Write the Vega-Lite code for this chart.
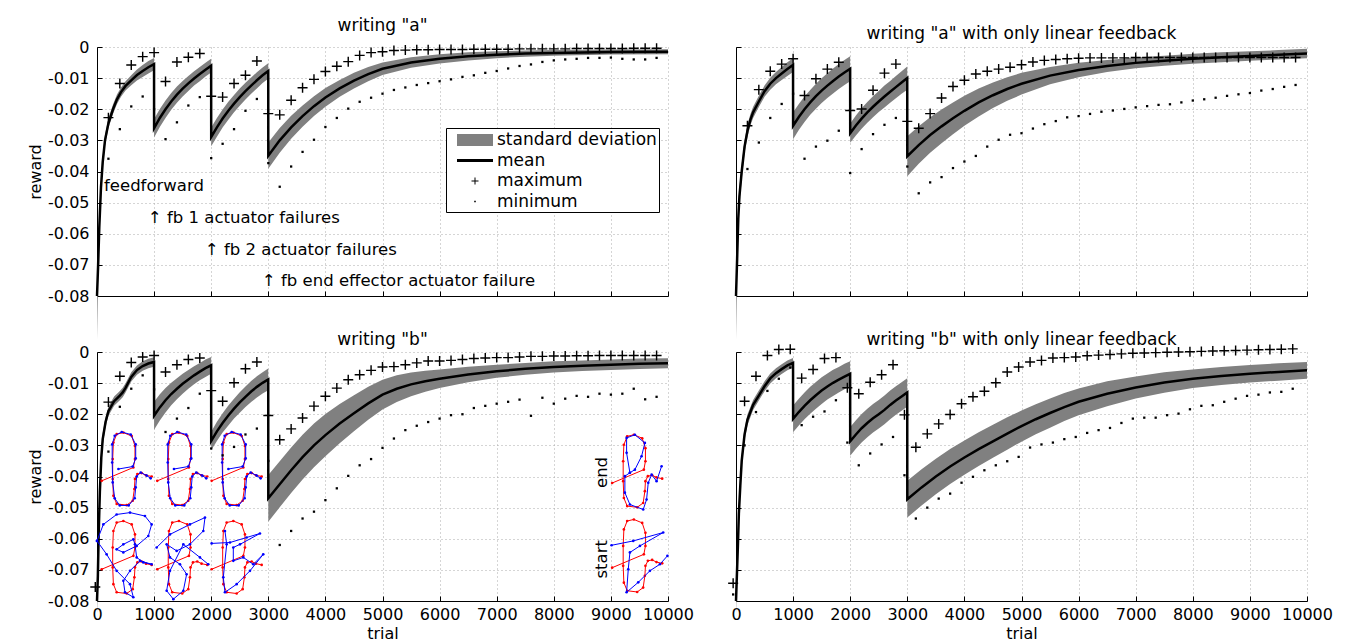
{
"$schema": "https://vega.github.io/schema/vega-lite/v6.json",
"padding": {"left": 27, "top": 17, "right": 5, "bottom": 5},
"config": {
  "font": "DejaVu Sans",
  "view": {"stroke": null},
  "axis": {"domainColor": "black", "domainWidth": 1, "tickColor": "black", "tickSize": -5, "labelColor": "black", "labelFontSize": 16, "labelFont": "DejaVu Sans", "labelOverlap": false, "labelBound": false, "labelFlush": false, "titleFontSize": 16, "titleFontWeight": "normal", "titleColor": "black", "titleFont": "DejaVu Sans", "gridColor": "#aaaaaa", "gridDash": [1, 3], "gridWidth": 1},
  "axisY": {"labelPadding": 13},
  "axisX": {"labelPadding": 10},
  "title": {"fontSize": 17, "fontWeight": "normal", "offset": 7, "frame": "group", "color": "black", "font": "DejaVu Sans"}
},
"datasets": {
  "tl": [
    {"t":0,"m":-0.080,"lo":-0.094,"hi":-0.076},{"t":20,"m":-0.070,"lo":-0.074,"hi":-0.066},{"t":40,"m":-0.058,"lo":-0.061,"hi":-0.055},{"t":70,"m":-0.045,"lo":-0.0475,"hi":-0.0425},{"t":100,"m":-0.037,"lo":-0.039,"hi":-0.035},{"t":140,"m":-0.030,"lo":-0.0318,"hi":-0.0282},{"t":200,"m":-0.0245,"lo":-0.026,"hi":-0.023},{"t":280,"m":-0.020,"lo":-0.0215,"hi":-0.0185},{"t":350,"m":-0.0168,"lo":-0.0183,"hi":-0.0153},{"t":420,"m":-0.0145,"lo":-0.016,"hi":-0.013},{"t":500,"m":-0.0125,"lo":-0.014,"hi":-0.011},{"t":600,"m":-0.0107,"lo":-0.0123,"hi":-0.0091},{"t":700,"m":-0.0090,"lo":-0.0108,"hi":-0.0072},{"t":800,"m":-0.0077,"lo":-0.0096,"hi":-0.0058},{"t":900,"m":-0.0065,"lo":-0.0085,"hi":-0.0045},{"t":999,"m":-0.0055,"lo":-0.0075,"hi":-0.0035},
    {"t":1000,"m":-0.0261,"lo":-0.0291,"hi":-0.0231},{"t":1100,"m":-0.0228,"lo":-0.0257,"hi":-0.0199},{"t":1200,"m":-0.0200,"lo":-0.0228,"hi":-0.0172},{"t":1300,"m":-0.0175,"lo":-0.0202,"hi":-0.0148},{"t":1400,"m":-0.0153,"lo":-0.0179,"hi":-0.0127},{"t":1500,"m":-0.0134,"lo":-0.0159,"hi":-0.0109},{"t":1600,"m":-0.0117,"lo":-0.0141,"hi":-0.0093},{"t":1700,"m":-0.0101,"lo":-0.0124,"hi":-0.0078},{"t":1800,"m":-0.0087,"lo":-0.0110,"hi":-0.0064},{"t":1900,"m":-0.0073,"lo":-0.0095,"hi":-0.0051},{"t":1999,"m":-0.0060,"lo":-0.0082,"hi":-0.0038},
    {"t":2000,"m":-0.0289,"lo":-0.0319,"hi":-0.0259},{"t":2100,"m":-0.0258,"lo":-0.0288,"hi":-0.0228},{"t":2200,"m":-0.0230,"lo":-0.0259,"hi":-0.0201},{"t":2300,"m":-0.0205,"lo":-0.0234,"hi":-0.0176},{"t":2400,"m":-0.0182,"lo":-0.0210,"hi":-0.0154},{"t":2500,"m":-0.0161,"lo":-0.0189,"hi":-0.0133},{"t":2600,"m":-0.0142,"lo":-0.0169,"hi":-0.0115},{"t":2700,"m":-0.0124,"lo":-0.0150,"hi":-0.0098},{"t":2800,"m":-0.0107,"lo":-0.0133,"hi":-0.0081},{"t":2900,"m":-0.0091,"lo":-0.0116,"hi":-0.0066},{"t":2999,"m":-0.0077,"lo":-0.0102,"hi":-0.0052},
    {"t":3000,"m":-0.0349,"lo":-0.0391,"hi":-0.0307},{"t":3200,"m":-0.0300,"lo":-0.0340,"hi":-0.0260},{"t":3400,"m":-0.0258,"lo":-0.0295,"hi":-0.0221},{"t":3600,"m":-0.0222,"lo":-0.0256,"hi":-0.0188},{"t":3800,"m":-0.0190,"lo":-0.0222,"hi":-0.0158},{"t":4000,"m":-0.0162,"lo":-0.0192,"hi":-0.0132},{"t":4250,"m":-0.0133,"lo":-0.0160,"hi":-0.0106},{"t":4500,"m":-0.0108,"lo":-0.0133,"hi":-0.0083},{"t":4750,"m":-0.0087,"lo":-0.0110,"hi":-0.0064},{"t":5000,"m":-0.0070,"lo":-0.0090,"hi":-0.0050},{"t":5500,"m":-0.0050,"lo":-0.0067,"hi":-0.0033},{"t":6000,"m":-0.0038,"lo":-0.0053,"hi":-0.0023},{"t":6500,"m":-0.0030,"lo":-0.0043,"hi":-0.0017},{"t":7000,"m":-0.0025,"lo":-0.0036,"hi":-0.0014},{"t":7500,"m":-0.0021,"lo":-0.0031,"hi":-0.0011},{"t":8000,"m":-0.0019,"lo":-0.0028,"hi":-0.0010},{"t":9000,"m":-0.0016,"lo":-0.0024,"hi":-0.0008},{"t":10000,"m":-0.0015,"lo":-0.0023,"hi":-0.0007}
  ],
  "tr": [
    {"t":0,"m":-0.080,"lo":-0.094,"hi":-0.076},{"t":20,"m":-0.068,"lo":-0.072,"hi":-0.064},{"t":40,"m":-0.055,"lo":-0.058,"hi":-0.052},{"t":60,"m":-0.048,"lo":-0.051,"hi":-0.045},{"t":100,"m":-0.040,"lo":-0.0425,"hi":-0.0375},{"t":150,"m":-0.032,"lo":-0.034,"hi":-0.030},{"t":200,"m":-0.027,"lo":-0.029,"hi":-0.025},{"t":250,"m":-0.0235,"lo":-0.0253,"hi":-0.0217},{"t":300,"m":-0.021,"lo":-0.0228,"hi":-0.0192},{"t":400,"m":-0.0175,"lo":-0.0193,"hi":-0.0157},{"t":500,"m":-0.0142,"lo":-0.016,"hi":-0.0124},{"t":600,"m":-0.0118,"lo":-0.0137,"hi":-0.0099},{"t":700,"m":-0.0100,"lo":-0.0120,"hi":-0.0080},{"t":800,"m":-0.0085,"lo":-0.0106,"hi":-0.0064},{"t":900,"m":-0.0071,"lo":-0.0093,"hi":-0.0049},{"t":999,"m":-0.0058,"lo":-0.0080,"hi":-0.0036},
    {"t":1000,"m":-0.0253,"lo":-0.0296,"hi":-0.0210},{"t":1100,"m":-0.0225,"lo":-0.0267,"hi":-0.0183},{"t":1200,"m":-0.0200,"lo":-0.0241,"hi":-0.0159},{"t":1300,"m":-0.0178,"lo":-0.0218,"hi":-0.0138},{"t":1400,"m":-0.0158,"lo":-0.0198,"hi":-0.0118},{"t":1500,"m":-0.0140,"lo":-0.0180,"hi":-0.0100},{"t":1600,"m":-0.0124,"lo":-0.0164,"hi":-0.0084},{"t":1700,"m":-0.0109,"lo":-0.0149,"hi":-0.0069},{"t":1800,"m":-0.0095,"lo":-0.0135,"hi":-0.0055},{"t":1900,"m":-0.0082,"lo":-0.0122,"hi":-0.0042},{"t":1999,"m":-0.0070,"lo":-0.0110,"hi":-0.0030},
    {"t":2000,"m":-0.0277,"lo":-0.0308,"hi":-0.0246},{"t":2100,"m":-0.0252,"lo":-0.0284,"hi":-0.0220},{"t":2200,"m":-0.0230,"lo":-0.0263,"hi":-0.0197},{"t":2300,"m":-0.0210,"lo":-0.0243,"hi":-0.0177},{"t":2400,"m":-0.0192,"lo":-0.0226,"hi":-0.0158},{"t":2500,"m":-0.0175,"lo":-0.0209,"hi":-0.0141},{"t":2600,"m":-0.0159,"lo":-0.0194,"hi":-0.0124},{"t":2700,"m":-0.0144,"lo":-0.0179,"hi":-0.0109},{"t":2800,"m":-0.0129,"lo":-0.0165,"hi":-0.0093},{"t":2900,"m":-0.0114,"lo":-0.0150,"hi":-0.0078},{"t":2999,"m":-0.0100,"lo":-0.0137,"hi":-0.0063},
    {"t":3000,"m":-0.0351,"lo":-0.0415,"hi":-0.0287},{"t":3200,"m":-0.0315,"lo":-0.0375,"hi":-0.0255},{"t":3400,"m":-0.0283,"lo":-0.0340,"hi":-0.0226},{"t":3600,"m":-0.0255,"lo":-0.0309,"hi":-0.0201},{"t":3800,"m":-0.0229,"lo":-0.0280,"hi":-0.0178},{"t":4000,"m":-0.0205,"lo":-0.0253,"hi":-0.0157},{"t":4250,"m":-0.0178,"lo":-0.0223,"hi":-0.0133},{"t":4500,"m":-0.0155,"lo":-0.0196,"hi":-0.0114},{"t":4750,"m":-0.0135,"lo":-0.0173,"hi":-0.0097},{"t":5000,"m":-0.0118,"lo":-0.0153,"hi":-0.0083},{"t":5500,"m":-0.0092,"lo":-0.0120,"hi":-0.0064},{"t":6000,"m":-0.0074,"lo":-0.0097,"hi":-0.0051},{"t":6500,"m":-0.0061,"lo":-0.0080,"hi":-0.0042},{"t":7000,"m":-0.0051,"lo":-0.0068,"hi":-0.0034},{"t":7500,"m":-0.0044,"lo":-0.0060,"hi":-0.0028},{"t":8000,"m":-0.0038,"lo":-0.0054,"hi":-0.0022},{"t":8500,"m":-0.0033,"lo":-0.0049,"hi":-0.0017},{"t":9000,"m":-0.0029,"lo":-0.0044,"hi":-0.0014},{"t":9500,"m":-0.0025,"lo":-0.0040,"hi":-0.0010},{"t":10000,"m":-0.0021,"lo":-0.0036,"hi":-0.0006}
  ],
  "bl": [
    {"t":0,"m":-0.080,"lo":-0.084,"hi":-0.076},{"t":15,"m":-0.072,"lo":-0.076,"hi":-0.068},{"t":30,"m":-0.058,"lo":-0.061,"hi":-0.055},{"t":50,"m":-0.045,"lo":-0.0475,"hi":-0.0425},{"t":75,"m":-0.034,"lo":-0.036,"hi":-0.032},{"t":100,"m":-0.028,"lo":-0.030,"hi":-0.026},{"t":150,"m":-0.0225,"lo":-0.024,"hi":-0.021},{"t":200,"m":-0.0190,"lo":-0.0205,"hi":-0.0175},{"t":300,"m":-0.0158,"lo":-0.0173,"hi":-0.0143},{"t":400,"m":-0.0140,"lo":-0.0155,"hi":-0.0125},{"t":450,"m":-0.0130,"lo":-0.0145,"hi":-0.0115},{"t":500,"m":-0.0115,"lo":-0.013,"hi":-0.010},{"t":600,"m":-0.0080,"lo":-0.0095,"hi":-0.0065},{"t":700,"m":-0.0058,"lo":-0.0073,"hi":-0.0043},{"t":800,"m":-0.0045,"lo":-0.0060,"hi":-0.0030},{"t":900,"m":-0.0037,"lo":-0.0052,"hi":-0.0022},{"t":999,"m":-0.0032,"lo":-0.0047,"hi":-0.0017},
    {"t":1000,"m":-0.0205,"lo":-0.0250,"hi":-0.0160},{"t":1100,"m":-0.0178,"lo":-0.0220,"hi":-0.0136},{"t":1200,"m":-0.0155,"lo":-0.0194,"hi":-0.0116},{"t":1300,"m":-0.0135,"lo":-0.0171,"hi":-0.0099},{"t":1400,"m":-0.0118,"lo":-0.0152,"hi":-0.0084},{"t":1500,"m":-0.0102,"lo":-0.0134,"hi":-0.0070},{"t":1600,"m":-0.0088,"lo":-0.0118,"hi":-0.0058},{"t":1700,"m":-0.0075,"lo":-0.0104,"hi":-0.0046},{"t":1800,"m":-0.0063,"lo":-0.0091,"hi":-0.0035},{"t":1900,"m":-0.0052,"lo":-0.0080,"hi":-0.0024},{"t":1999,"m":-0.0043,"lo":-0.0070,"hi":-0.0016},
    {"t":2000,"m":-0.0286,"lo":-0.0316,"hi":-0.0256},{"t":2100,"m":-0.0255,"lo":-0.0286,"hi":-0.0224},{"t":2200,"m":-0.0228,"lo":-0.0259,"hi":-0.0197},{"t":2300,"m":-0.0204,"lo":-0.0236,"hi":-0.0172},{"t":2400,"m":-0.0182,"lo":-0.0214,"hi":-0.0150},{"t":2500,"m":-0.0162,"lo":-0.0195,"hi":-0.0129},{"t":2600,"m":-0.0144,"lo":-0.0177,"hi":-0.0111},{"t":2700,"m":-0.0127,"lo":-0.0161,"hi":-0.0093},{"t":2800,"m":-0.0112,"lo":-0.0146,"hi":-0.0078},{"t":2900,"m":-0.0099,"lo":-0.0133,"hi":-0.0065},{"t":2999,"m":-0.0088,"lo":-0.0123,"hi":-0.0053},
    {"t":3000,"m":-0.0470,"lo":-0.0545,"hi":-0.0395},{"t":3200,"m":-0.0425,"lo":-0.0499,"hi":-0.0351},{"t":3400,"m":-0.0380,"lo":-0.0453,"hi":-0.0307},{"t":3600,"m":-0.0338,"lo":-0.0410,"hi":-0.0266},{"t":3800,"m":-0.0300,"lo":-0.0370,"hi":-0.0230},{"t":4000,"m":-0.0267,"lo":-0.0335,"hi":-0.0199},{"t":4250,"m":-0.0230,"lo":-0.0293,"hi":-0.0167},{"t":4500,"m":-0.0197,"lo":-0.0255,"hi":-0.0139},{"t":4750,"m":-0.0165,"lo":-0.0218,"hi":-0.0112},{"t":5000,"m":-0.0137,"lo":-0.0185,"hi":-0.0089},{"t":5250,"m":-0.0118,"lo":-0.0161,"hi":-0.0075},{"t":5500,"m":-0.0104,"lo":-0.0142,"hi":-0.0066},{"t":5750,"m":-0.0094,"lo":-0.0128,"hi":-0.0060},{"t":6000,"m":-0.0086,"lo":-0.0116,"hi":-0.0056},{"t":6500,"m":-0.0072,"lo":-0.0097,"hi":-0.0047},{"t":7000,"m":-0.0062,"lo":-0.0083,"hi":-0.0041},{"t":7500,"m":-0.0054,"lo":-0.0073,"hi":-0.0035},{"t":8000,"m":-0.0048,"lo":-0.0066,"hi":-0.0030},{"t":8500,"m":-0.0044,"lo":-0.0061,"hi":-0.0027},{"t":9000,"m":-0.0041,"lo":-0.0058,"hi":-0.0024},{"t":9500,"m":-0.0038,"lo":-0.0055,"hi":-0.0021},{"t":10000,"m":-0.0036,"lo":-0.0052,"hi":-0.0020}
  ],
  "br": [
    {"t":0,"m":-0.080,"lo":-0.084,"hi":-0.076},{"t":15,"m":-0.072,"lo":-0.075,"hi":-0.069},{"t":30,"m":-0.064,"lo":-0.067,"hi":-0.061},{"t":50,"m":-0.052,"lo":-0.055,"hi":-0.049},{"t":75,"m":-0.043,"lo":-0.0455,"hi":-0.0405},{"t":100,"m":-0.035,"lo":-0.037,"hi":-0.033},{"t":150,"m":-0.0265,"lo":-0.0283,"hi":-0.0247},{"t":200,"m":-0.0218,"lo":-0.0235,"hi":-0.0201},{"t":300,"m":-0.0170,"lo":-0.0186,"hi":-0.0154},{"t":400,"m":-0.0140,"lo":-0.0156,"hi":-0.0124},{"t":500,"m":-0.0110,"lo":-0.0126,"hi":-0.0094},{"t":600,"m":-0.0085,"lo":-0.0101,"hi":-0.0069},{"t":700,"m":-0.0068,"lo":-0.0084,"hi":-0.0052},{"t":800,"m":-0.0055,"lo":-0.0071,"hi":-0.0039},{"t":900,"m":-0.0043,"lo":-0.0059,"hi":-0.0027},{"t":999,"m":-0.0035,"lo":-0.0051,"hi":-0.0019},
    {"t":1000,"m":-0.0215,"lo":-0.0258,"hi":-0.0172},{"t":1100,"m":-0.0193,"lo":-0.0236,"hi":-0.0150},{"t":1200,"m":-0.0173,"lo":-0.0216,"hi":-0.0130},{"t":1300,"m":-0.0155,"lo":-0.0198,"hi":-0.0112},{"t":1400,"m":-0.0139,"lo":-0.0182,"hi":-0.0096},{"t":1500,"m":-0.0124,"lo":-0.0167,"hi":-0.0081},{"t":1600,"m":-0.0111,"lo":-0.0153,"hi":-0.0069},{"t":1700,"m":-0.0099,"lo":-0.0141,"hi":-0.0057},{"t":1800,"m":-0.0089,"lo":-0.0130,"hi":-0.0048},{"t":1900,"m":-0.0079,"lo":-0.0120,"hi":-0.0038},{"t":1999,"m":-0.0070,"lo":-0.0110,"hi":-0.0030},
    {"t":2000,"m":-0.0287,"lo":-0.0333,"hi":-0.0241},{"t":2100,"m":-0.0265,"lo":-0.0311,"hi":-0.0219},{"t":2200,"m":-0.0245,"lo":-0.0291,"hi":-0.0199},{"t":2300,"m":-0.0228,"lo":-0.0274,"hi":-0.0182},{"t":2400,"m":-0.0213,"lo":-0.0259,"hi":-0.0167},{"t":2500,"m":-0.0200,"lo":-0.0246,"hi":-0.0154},{"t":2600,"m":-0.0186,"lo":-0.0232,"hi":-0.0140},{"t":2700,"m":-0.0170,"lo":-0.0216,"hi":-0.0124},{"t":2800,"m":-0.0156,"lo":-0.0202,"hi":-0.0110},{"t":2900,"m":-0.0143,"lo":-0.0189,"hi":-0.0097},{"t":2999,"m":-0.0130,"lo":-0.0176,"hi":-0.0084},
    {"t":3000,"m":-0.0473,"lo":-0.0532,"hi":-0.0414},{"t":3250,"m":-0.0435,"lo":-0.0493,"hi":-0.0377},{"t":3500,"m":-0.0400,"lo":-0.0457,"hi":-0.0343},{"t":3750,"m":-0.0368,"lo":-0.0424,"hi":-0.0312},{"t":4000,"m":-0.0339,"lo":-0.0394,"hi":-0.0284},{"t":4250,"m":-0.0312,"lo":-0.0366,"hi":-0.0258},{"t":4500,"m":-0.0287,"lo":-0.0340,"hi":-0.0234},{"t":4750,"m":-0.0262,"lo":-0.0314,"hi":-0.0210},{"t":5000,"m":-0.0238,"lo":-0.0288,"hi":-0.0188},{"t":5250,"m":-0.0216,"lo":-0.0264,"hi":-0.0168},{"t":5500,"m":-0.0196,"lo":-0.0243,"hi":-0.0149},{"t":5750,"m":-0.0177,"lo":-0.0222,"hi":-0.0132},{"t":6000,"m":-0.0160,"lo":-0.0203,"hi":-0.0117},{"t":6500,"m":-0.0134,"lo":-0.0174,"hi":-0.0094},{"t":7000,"m":-0.0114,"lo":-0.0149,"hi":-0.0079},{"t":7500,"m":-0.0098,"lo":-0.0131,"hi":-0.0065},{"t":8000,"m":-0.0086,"lo":-0.0116,"hi":-0.0056},{"t":8500,"m":-0.0077,"lo":-0.0106,"hi":-0.0048},{"t":9000,"m":-0.0070,"lo":-0.0098,"hi":-0.0042},{"t":9500,"m":-0.0064,"lo":-0.0092,"hi":-0.0036},{"t":10000,"m":-0.0059,"lo":-0.0086,"hi":-0.0032}
  ],
  "tlm": [
    {"t":200,"maximum":-0.0227,"minimum":-0.0359},{"t":400,"maximum":-0.0117,"minimum":-0.0264},{"t":600,"maximum":-0.0058,"minimum":-0.0191},{"t":800,"maximum":-0.0031,"minimum":-0.0159},{"t":1000,"maximum":-0.0018,"minimum":-0.0200},{"t":1200,"maximum":-0.0111,"minimum":-0.0296},{"t":1400,"maximum":-0.0048,"minimum":-0.0242},{"t":1600,"maximum":-0.0033,"minimum":-0.0188},{"t":1800,"maximum":-0.0021,"minimum":-0.0161},{"t":2000,"maximum":-0.0158,"minimum":-0.0357},{"t":2200,"maximum":-0.0161,"minimum":-0.0311},{"t":2400,"maximum":-0.0117,"minimum":-0.0264},{"t":2600,"maximum":-0.0091,"minimum":-0.0205},{"t":2800,"maximum":-0.0045,"minimum":-0.0167},{"t":3000,"maximum":-0.0214,"minimum":-0.0373},{"t":3200,"maximum":-0.0218,"minimum":-0.0449},{"t":3400,"maximum":-0.0171,"minimum":-0.0384},{"t":3600,"maximum":-0.0131,"minimum":-0.0337},{"t":3800,"maximum":-0.0104,"minimum":-0.0298},{"t":4000,"maximum":-0.0079,"minimum":-0.0257},{"t":4200,"maximum":-0.0062,"minimum":-0.0228},{"t":4400,"maximum":-0.0047,"minimum":-0.0198},{"t":4600,"maximum":-0.0027,"minimum":-0.0176},{"t":4800,"maximum":-0.0018,"minimum":-0.0163},{"t":5000,"maximum":-0.0015,"minimum":-0.0150},{"t":5200,"maximum":-0.0011,"minimum":-0.0138},{"t":5400,"maximum":-0.0010,"minimum":-0.0130},{"t":5600,"maximum":-0.0009,"minimum":-0.0122},{"t":5800,"maximum":-0.0009,"minimum":-0.0116},{"t":6000,"maximum":-0.0008,"minimum":-0.0110},{"t":6200,"maximum":-0.0008,"minimum":-0.0104},{"t":6400,"maximum":-0.0008,"minimum":-0.0096},{"t":6600,"maximum":-0.0007,"minimum":-0.0091},{"t":6800,"maximum":-0.0007,"minimum":-0.0083},{"t":7000,"maximum":-0.0007,"minimum":-0.0077},{"t":7200,"maximum":-0.0007,"minimum":-0.0069},{"t":7400,"maximum":-0.0006,"minimum":-0.0061},{"t":7600,"maximum":-0.0006,"minimum":-0.0056},{"t":7800,"maximum":-0.0006,"minimum":-0.0048},{"t":8000,"maximum":-0.0006,"minimum":-0.0043},{"t":8200,"maximum":-0.0006,"minimum":-0.0040},{"t":8400,"maximum":-0.0005,"minimum":-0.0038},{"t":8600,"maximum":-0.0005,"minimum":-0.0035},{"t":8800,"maximum":-0.0005,"minimum":-0.0035},{"t":9000,"maximum":-0.0005,"minimum":-0.0034},{"t":9200,"maximum":-0.0005,"minimum":-0.0038},{"t":9400,"maximum":-0.0004,"minimum":-0.0040},{"t":9600,"maximum":-0.0004,"minimum":-0.0040},{"t":9800,"maximum":-0.0004,"minimum":-0.0035}
  ],
  "trm": [
    {"t":200,"maximum":-0.0253,"minimum":-0.0392},{"t":400,"maximum":-0.0137,"minimum":-0.0307},{"t":600,"maximum":-0.0078,"minimum":-0.0228},{"t":800,"maximum":-0.0055,"minimum":-0.0183},{"t":1000,"maximum":-0.0038,"minimum":-0.0150},{"t":1200,"maximum":-0.0156,"minimum":-0.0359},{"t":1400,"maximum":-0.0102,"minimum":-0.0320},{"t":1600,"maximum":-0.0071,"minimum":-0.0301},{"t":1800,"maximum":-0.0049,"minimum":-0.0269},{"t":2000,"maximum":-0.0204,"minimum":-0.0405},{"t":2200,"maximum":-0.0199,"minimum":-0.0328},{"t":2400,"maximum":-0.0139,"minimum":-0.0280},{"t":2600,"maximum":-0.0084,"minimum":-0.0250},{"t":2800,"maximum":-0.0055,"minimum":-0.0228},{"t":3000,"maximum":-0.0239,"minimum":-0.0384},{"t":3200,"maximum":-0.0261,"minimum":-0.0470},{"t":3400,"maximum":-0.0214,"minimum":-0.0435},{"t":3600,"maximum":-0.0164,"minimum":-0.0418},{"t":3800,"maximum":-0.0127,"minimum":-0.0389},{"t":4000,"maximum":-0.0107,"minimum":-0.0368},{"t":4200,"maximum":-0.0087,"minimum":-0.0350},{"t":4400,"maximum":-0.0078,"minimum":-0.0320},{"t":4600,"maximum":-0.0071,"minimum":-0.0298},{"t":4800,"maximum":-0.0065,"minimum":-0.0282},{"t":5000,"maximum":-0.0057,"minimum":-0.0277},{"t":5200,"maximum":-0.0048,"minimum":-0.0262},{"t":5400,"maximum":-0.0043,"minimum":-0.0248},{"t":5600,"maximum":-0.0040,"minimum":-0.0238},{"t":5800,"maximum":-0.0038,"minimum":-0.0226},{"t":6000,"maximum":-0.0036,"minimum":-0.0222},{"t":6200,"maximum":-0.0035,"minimum":-0.0215},{"t":6400,"maximum":-0.0035,"minimum":-0.0208},{"t":6600,"maximum":-0.0035,"minimum":-0.0204},{"t":6800,"maximum":-0.0035,"minimum":-0.0199},{"t":7000,"maximum":-0.0034,"minimum":-0.0194},{"t":7200,"maximum":-0.0034,"minimum":-0.0190},{"t":7400,"maximum":-0.0034,"minimum":-0.0186},{"t":7600,"maximum":-0.0034,"minimum":-0.0184},{"t":7800,"maximum":-0.0034,"minimum":-0.0178},{"t":8000,"maximum":-0.0034,"minimum":-0.0172},{"t":8200,"maximum":-0.0034,"minimum":-0.0168},{"t":8400,"maximum":-0.0034,"minimum":-0.0163},{"t":8600,"maximum":-0.0034,"minimum":-0.0157},{"t":8800,"maximum":-0.0034,"minimum":-0.0152},{"t":9000,"maximum":-0.0034,"minimum":-0.0148},{"t":9200,"maximum":-0.0034,"minimum":-0.0140},{"t":9400,"maximum":-0.0034,"minimum":-0.0135},{"t":9600,"maximum":-0.0034,"minimum":-0.0128},{"t":9800,"maximum":-0.0034,"minimum":-0.0122}
  ],
  "blm": [
    {"t":-30,"maximum":-0.0755,"minimum":null},{"t":200,"maximum":-0.0161,"minimum":-0.0320},{"t":400,"maximum":-0.0078,"minimum":-0.0176},{"t":600,"maximum":-0.0034,"minimum":-0.0118},{"t":800,"maximum":-0.0016,"minimum":-0.0075},{"t":1000,"maximum":-0.0011,"minimum":-0.0120},{"t":1200,"maximum":-0.0064,"minimum":-0.0257},{"t":1400,"maximum":-0.0041,"minimum":-0.0214},{"t":1600,"maximum":-0.0024,"minimum":-0.0180},{"t":1800,"maximum":-0.0019,"minimum":-0.0134},{"t":2000,"maximum":-0.0124,"minimum":-0.0310},{"t":2200,"maximum":-0.0158,"minimum":-0.0332},{"t":2400,"maximum":-0.0099,"minimum":-0.0305},{"t":2600,"maximum":-0.0054,"minimum":-0.0265},{"t":2800,"maximum":-0.0032,"minimum":-0.0246},{"t":3000,"maximum":-0.0204,"minimum":-0.0350},{"t":3200,"maximum":-0.0282,"minimum":-0.0620},{"t":3400,"maximum":-0.0247,"minimum":-0.0575},{"t":3600,"maximum":-0.0212,"minimum":-0.0535},{"t":3800,"maximum":-0.0174,"minimum":-0.0513},{"t":4000,"maximum":-0.0142,"minimum":-0.0476},{"t":4200,"maximum":-0.0116,"minimum":-0.0438},{"t":4400,"maximum":-0.0089,"minimum":-0.0398},{"t":4600,"maximum":-0.0073,"minimum":-0.0364},{"t":4800,"maximum":-0.0059,"minimum":-0.0344},{"t":5000,"maximum":-0.0048,"minimum":-0.0308},{"t":5200,"maximum":-0.0047,"minimum":-0.0278},{"t":5400,"maximum":-0.0041,"minimum":-0.0251},{"t":5600,"maximum":-0.0035,"minimum":-0.0237},{"t":5800,"maximum":-0.0029,"minimum":-0.0225},{"t":6000,"maximum":-0.0029,"minimum":-0.0214},{"t":6200,"maximum":-0.0027,"minimum":-0.0203},{"t":6400,"maximum":-0.0024,"minimum":-0.0200},{"t":6600,"maximum":-0.0021,"minimum":-0.0180},{"t":6800,"maximum":-0.0019,"minimum":-0.0173},{"t":7000,"maximum":-0.0018,"minimum":-0.0166},{"t":7200,"maximum":-0.0018,"minimum":-0.0160},{"t":7400,"maximum":-0.0016,"minimum":-0.0153},{"t":7600,"maximum":-0.0014,"minimum":-0.0205},{"t":7800,"maximum":-0.0014,"minimum":-0.0147},{"t":8000,"maximum":-0.0013,"minimum":-0.0166},{"t":8200,"maximum":-0.0013,"minimum":-0.0150},{"t":8400,"maximum":-0.0012,"minimum":-0.0141},{"t":8600,"maximum":-0.0012,"minimum":-0.0144},{"t":8800,"maximum":-0.0011,"minimum":-0.0134},{"t":9000,"maximum":-0.0011,"minimum":-0.0137},{"t":9200,"maximum":-0.0011,"minimum":-0.0134},{"t":9400,"maximum":-0.0011,"minimum":-0.0118},{"t":9600,"maximum":-0.0011,"minimum":-0.0152},{"t":9800,"maximum":-0.0011,"minimum":-0.0144}
  ],
  "brm": [
    {"t":-50,"maximum":-0.0743,"minimum":-0.0779},{"t":150,"maximum":-0.0158,"minimum":-0.0300},{"t":350,"maximum":-0.0078,"minimum":-0.0193},{"t":550,"maximum":-0.0011,"minimum":-0.0125},{"t":750,"maximum":0.0008,"minimum":-0.0086},{"t":950,"maximum":0.0009,"minimum":-0.0050},{"t":1150,"maximum":-0.0084,"minimum":-0.0235},{"t":1350,"maximum":-0.0056,"minimum":-0.0208},{"t":1550,"maximum":-0.0021,"minimum":-0.0191},{"t":1750,"maximum":-0.0018,"minimum":-0.0155},{"t":1950,"maximum":-0.0115,"minimum":-0.0291},{"t":2150,"maximum":-0.0134,"minimum":-0.0364},{"t":2350,"maximum":-0.0097,"minimum":-0.0326},{"t":2550,"maximum":-0.0073,"minimum":-0.0297},{"t":2750,"maximum":-0.0041,"minimum":-0.0273},{"t":2950,"maximum":-0.0202,"minimum":-0.0396},{"t":3150,"maximum":-0.0306,"minimum":-0.0535},{"t":3350,"maximum":-0.0263,"minimum":-0.0500},{"t":3550,"maximum":-0.0231,"minimum":-0.0471},{"t":3750,"maximum":-0.0201,"minimum":-0.0455},{"t":3950,"maximum":-0.0166,"minimum":-0.0420},{"t":4150,"maximum":-0.0144,"minimum":-0.0401},{"t":4350,"maximum":-0.0126,"minimum":-0.0380},{"t":4550,"maximum":-0.0099,"minimum":-0.0364},{"t":4750,"maximum":-0.0064,"minimum":-0.0351},{"t":4950,"maximum":-0.0048,"minimum":-0.0337},{"t":5150,"maximum":-0.0032,"minimum":-0.0307},{"t":5350,"maximum":-0.0027,"minimum":-0.0297},{"t":5550,"maximum":-0.0019,"minimum":-0.0291},{"t":5750,"maximum":-0.0018,"minimum":-0.0280},{"t":5950,"maximum":-0.0016,"minimum":-0.0273},{"t":6150,"maximum":-0.0012,"minimum":-0.0260},{"t":6350,"maximum":-0.0010,"minimum":-0.0251},{"t":6550,"maximum":-0.0008,"minimum":-0.0244},{"t":6750,"maximum":-0.0006,"minimum":-0.0228},{"t":6950,"maximum":-0.0004,"minimum":-0.0214},{"t":7150,"maximum":-0.0003,"minimum":-0.0211},{"t":7350,"maximum":-0.0002,"minimum":-0.0211},{"t":7550,"maximum":-0.0001,"minimum":-0.0203},{"t":7750,"maximum":0.0000,"minimum":-0.0198},{"t":7950,"maximum":0.0001,"minimum":-0.0184},{"t":8150,"maximum":0.0002,"minimum":-0.0173},{"t":8350,"maximum":0.0003,"minimum":-0.0171},{"t":8550,"maximum":0.0004,"minimum":-0.0160},{"t":8750,"maximum":0.0005,"minimum":-0.0150},{"t":8950,"maximum":0.0006,"minimum":-0.0141},{"t":9150,"maximum":0.0007,"minimum":-0.0137},{"t":9350,"maximum":0.0008,"minimum":-0.0130},{"t":9550,"maximum":0.0009,"minimum":-0.0128},{"t":9750,"maximum":0.0010,"minimum":-0.0118}
  ],
  "notes": [
    {"t":123,"r":-0.0446,"label":"feedforward"},{"t":893,"r":-0.0549,"label":"↑ fb 1 actuator failures"},{"t":1891,"r":-0.0652,"label":"↑ fb 2 actuator failures"},{"t":2889,"r":-0.0751,"label":"↑ fb end effector actuator failure"}
  ],
  "insetlabels": [
    {"t":8837,"r":-0.0387,"label":"end"},{"t":8837,"r":-0.0666,"label":"start"}
  ],
  "target": [
    {"g":"a","t":82,"r":-0.0414},{"g":"a","t":637,"r":-0.0371},{"g":"a","t":665,"r":-0.0344},{"g":"a","t":665,"r":-0.0302},{"g":"a","t":608,"r":-0.0270},{"g":"a","t":462,"r":-0.0259},{"g":"a","t":345,"r":-0.0264},{"g":"a","t":287,"r":-0.0291},{"g":"a","t":275,"r":-0.0344},{"g":"a","t":275,"r":-0.0408},{"g":"a","t":287,"r":-0.0462},{"g":"a","t":345,"r":-0.0488},{"g":"a","t":520,"r":-0.0492},{"g":"a","t":625,"r":-0.0478},{"g":"a","t":655,"r":-0.0440},{"g":"a","t":665,"r":-0.0408},{"g":"a","t":707,"r":-0.0392},{"g":"a","t":783,"r":-0.0389},{"g":"a","t":858,"r":-0.0396},{"g":"a","t":958,"r":-0.0400},
    {"g":"b","t":1055,"r":-0.0414},{"g":"b","t":1610,"r":-0.0371},{"g":"b","t":1638,"r":-0.0344},{"g":"b","t":1638,"r":-0.0302},{"g":"b","t":1581,"r":-0.0270},{"g":"b","t":1435,"r":-0.0259},{"g":"b","t":1318,"r":-0.0264},{"g":"b","t":1260,"r":-0.0291},{"g":"b","t":1248,"r":-0.0344},{"g":"b","t":1248,"r":-0.0408},{"g":"b","t":1260,"r":-0.0462},{"g":"b","t":1318,"r":-0.0488},{"g":"b","t":1493,"r":-0.0492},{"g":"b","t":1598,"r":-0.0478},{"g":"b","t":1628,"r":-0.0440},{"g":"b","t":1638,"r":-0.0408},{"g":"b","t":1680,"r":-0.0392},{"g":"b","t":1756,"r":-0.0389},{"g":"b","t":1831,"r":-0.0396},{"g":"b","t":1931,"r":-0.0400},
    {"g":"c","t":2008,"r":-0.0414},{"g":"c","t":2563,"r":-0.0371},{"g":"c","t":2591,"r":-0.0344},{"g":"c","t":2591,"r":-0.0302},{"g":"c","t":2534,"r":-0.0270},{"g":"c","t":2388,"r":-0.0259},{"g":"c","t":2271,"r":-0.0264},{"g":"c","t":2213,"r":-0.0291},{"g":"c","t":2201,"r":-0.0344},{"g":"c","t":2201,"r":-0.0408},{"g":"c","t":2213,"r":-0.0462},{"g":"c","t":2271,"r":-0.0488},{"g":"c","t":2446,"r":-0.0492},{"g":"c","t":2551,"r":-0.0478},{"g":"c","t":2581,"r":-0.0440},{"g":"c","t":2591,"r":-0.0408},{"g":"c","t":2633,"r":-0.0392},{"g":"c","t":2709,"r":-0.0389},{"g":"c","t":2784,"r":-0.0396},{"g":"c","t":2884,"r":-0.0400},
    {"g":"d","t":9022,"r":-0.0421},{"g":"d","t":9577,"r":-0.0378},{"g":"d","t":9605,"r":-0.0351},{"g":"d","t":9605,"r":-0.0309},{"g":"d","t":9548,"r":-0.0277},{"g":"d","t":9402,"r":-0.0266},{"g":"d","t":9285,"r":-0.0271},{"g":"d","t":9227,"r":-0.0298},{"g":"d","t":9215,"r":-0.0351},{"g":"d","t":9215,"r":-0.0415},{"g":"d","t":9227,"r":-0.0469},{"g":"d","t":9285,"r":-0.0495},{"g":"d","t":9460,"r":-0.0499},{"g":"d","t":9565,"r":-0.0485},{"g":"d","t":9595,"r":-0.0447},{"g":"d","t":9605,"r":-0.0415},{"g":"d","t":9647,"r":-0.0399},{"g":"d","t":9723,"r":-0.0396},{"g":"d","t":9798,"r":-0.0403},{"g":"d","t":9898,"r":-0.0407},
    {"g":"e","t":82,"r":-0.0698},{"g":"e","t":637,"r":-0.0655},{"g":"e","t":665,"r":-0.0628},{"g":"e","t":665,"r":-0.0586},{"g":"e","t":608,"r":-0.0554},{"g":"e","t":462,"r":-0.0543},{"g":"e","t":345,"r":-0.0548},{"g":"e","t":287,"r":-0.0575},{"g":"e","t":275,"r":-0.0628},{"g":"e","t":275,"r":-0.0692},{"g":"e","t":287,"r":-0.0746},{"g":"e","t":345,"r":-0.0772},{"g":"e","t":520,"r":-0.0776},{"g":"e","t":625,"r":-0.0762},{"g":"e","t":655,"r":-0.0724},{"g":"e","t":665,"r":-0.0692},{"g":"e","t":707,"r":-0.0676},{"g":"e","t":783,"r":-0.0673},{"g":"e","t":858,"r":-0.0680},{"g":"e","t":958,"r":-0.0684},
    {"g":"f","t":1055,"r":-0.0698},{"g":"f","t":1610,"r":-0.0655},{"g":"f","t":1638,"r":-0.0628},{"g":"f","t":1638,"r":-0.0586},{"g":"f","t":1581,"r":-0.0554},{"g":"f","t":1435,"r":-0.0543},{"g":"f","t":1318,"r":-0.0548},{"g":"f","t":1260,"r":-0.0575},{"g":"f","t":1248,"r":-0.0628},{"g":"f","t":1248,"r":-0.0692},{"g":"f","t":1260,"r":-0.0746},{"g":"f","t":1318,"r":-0.0772},{"g":"f","t":1493,"r":-0.0776},{"g":"f","t":1598,"r":-0.0762},{"g":"f","t":1628,"r":-0.0724},{"g":"f","t":1638,"r":-0.0692},{"g":"f","t":1680,"r":-0.0676},{"g":"f","t":1756,"r":-0.0673},{"g":"f","t":1831,"r":-0.0680},{"g":"f","t":1931,"r":-0.0684},
    {"g":"h","t":2008,"r":-0.0698},{"g":"h","t":2563,"r":-0.0655},{"g":"h","t":2591,"r":-0.0628},{"g":"h","t":2591,"r":-0.0586},{"g":"h","t":2534,"r":-0.0554},{"g":"h","t":2388,"r":-0.0543},{"g":"h","t":2271,"r":-0.0548},{"g":"h","t":2213,"r":-0.0575},{"g":"h","t":2201,"r":-0.0628},{"g":"h","t":2201,"r":-0.0692},{"g":"h","t":2213,"r":-0.0746},{"g":"h","t":2271,"r":-0.0772},{"g":"h","t":2446,"r":-0.0776},{"g":"h","t":2551,"r":-0.0762},{"g":"h","t":2581,"r":-0.0724},{"g":"h","t":2591,"r":-0.0692},{"g":"h","t":2633,"r":-0.0676},{"g":"h","t":2709,"r":-0.0673},{"g":"h","t":2784,"r":-0.0680},{"g":"h","t":2884,"r":-0.0684},
    {"g":"k","t":9022,"r":-0.0693},{"g":"k","t":9577,"r":-0.0650},{"g":"k","t":9605,"r":-0.0623},{"g":"k","t":9605,"r":-0.0581},{"g":"k","t":9548,"r":-0.0549},{"g":"k","t":9402,"r":-0.0538},{"g":"k","t":9285,"r":-0.0543},{"g":"k","t":9227,"r":-0.0570},{"g":"k","t":9215,"r":-0.0623},{"g":"k","t":9215,"r":-0.0687},{"g":"k","t":9227,"r":-0.0741},{"g":"k","t":9285,"r":-0.0767},{"g":"k","t":9460,"r":-0.0771},{"g":"k","t":9565,"r":-0.0757},{"g":"k","t":9595,"r":-0.0719},{"g":"k","t":9605,"r":-0.0687},{"g":"k","t":9647,"r":-0.0671},{"g":"k","t":9723,"r":-0.0668},{"g":"k","t":9798,"r":-0.0675},{"g":"k","t":9898,"r":-0.0679}
  ],
  "trace": [
    {"g":"a","t":375,"r":-0.0376},{"g":"a","t":625,"r":-0.0368},{"g":"a","t":678,"r":-0.0342},{"g":"a","t":678,"r":-0.0297},{"g":"a","t":590,"r":-0.0265},{"g":"a","t":433,"r":-0.0257},{"g":"a","t":310,"r":-0.0269},{"g":"a","t":266,"r":-0.0297},{"g":"a","t":266,"r":-0.0355},{"g":"a","t":275,"r":-0.0419},{"g":"a","t":310,"r":-0.0470},{"g":"a","t":398,"r":-0.0493},{"g":"a","t":555,"r":-0.0493},{"g":"a","t":660,"r":-0.0470},{"g":"a","t":678,"r":-0.0435},{"g":"a","t":695,"r":-0.0400},{"g":"a","t":765,"r":-0.0387},{"g":"a","t":870,"r":-0.0397},{"g":"a","t":940,"r":-0.0406},
    {"g":"b","t":1348,"r":-0.0376},{"g":"b","t":1598,"r":-0.0368},{"g":"b","t":1651,"r":-0.0342},{"g":"b","t":1651,"r":-0.0297},{"g":"b","t":1563,"r":-0.0265},{"g":"b","t":1406,"r":-0.0257},{"g":"b","t":1283,"r":-0.0269},{"g":"b","t":1239,"r":-0.0297},{"g":"b","t":1239,"r":-0.0355},{"g":"b","t":1248,"r":-0.0419},{"g":"b","t":1283,"r":-0.0470},{"g":"b","t":1371,"r":-0.0493},{"g":"b","t":1528,"r":-0.0493},{"g":"b","t":1633,"r":-0.0470},{"g":"b","t":1651,"r":-0.0435},{"g":"b","t":1668,"r":-0.0400},{"g":"b","t":1738,"r":-0.0387},{"g":"b","t":1843,"r":-0.0397},{"g":"b","t":1913,"r":-0.0406},
    {"g":"c","t":2301,"r":-0.0376},{"g":"c","t":2551,"r":-0.0368},{"g":"c","t":2604,"r":-0.0342},{"g":"c","t":2604,"r":-0.0297},{"g":"c","t":2516,"r":-0.0265},{"g":"c","t":2359,"r":-0.0257},{"g":"c","t":2236,"r":-0.0269},{"g":"c","t":2192,"r":-0.0297},{"g":"c","t":2192,"r":-0.0355},{"g":"c","t":2201,"r":-0.0419},{"g":"c","t":2236,"r":-0.0470},{"g":"c","t":2324,"r":-0.0493},{"g":"c","t":2481,"r":-0.0493},{"g":"c","t":2586,"r":-0.0470},{"g":"c","t":2604,"r":-0.0435},{"g":"c","t":2621,"r":-0.0400},{"g":"c","t":2691,"r":-0.0387},{"g":"c","t":2796,"r":-0.0397},{"g":"c","t":2866,"r":-0.0406},
    {"g":"d","t":9888,"r":-0.0367},{"g":"d","t":9800,"r":-0.0415},{"g":"d","t":9713,"r":-0.0394},{"g":"d","t":9654,"r":-0.0420},{"g":"d","t":9625,"r":-0.0474},{"g":"d","t":9566,"r":-0.0506},{"g":"d","t":9333,"r":-0.0490},{"g":"d","t":9245,"r":-0.0452},{"g":"d","t":9245,"r":-0.0399},{"g":"d","t":9333,"r":-0.0388},{"g":"d","t":9420,"r":-0.0378},{"g":"d","t":9537,"r":-0.0335},{"g":"d","t":9595,"r":-0.0292},{"g":"d","t":9420,"r":-0.0266},{"g":"d","t":9275,"r":-0.0276},{"g":"d","t":9275,"r":-0.0324},{"g":"d","t":9333,"r":-0.0388},
    {"g":"e","t":0,"r":-0.0607},{"g":"e","t":111,"r":-0.0554},{"g":"e","t":344,"r":-0.0522},{"g":"e","t":578,"r":-0.0516},{"g":"e","t":840,"r":-0.0527},{"g":"e","t":957,"r":-0.0554},{"g":"e","t":899,"r":-0.0591},{"g":"e","t":695,"r":-0.0623},{"g":"e","t":461,"r":-0.0644},{"g":"e","t":344,"r":-0.0634},{"g":"e","t":461,"r":-0.0618},{"g":"e","t":636,"r":-0.0602},{"g":"e","t":665,"r":-0.0618},{"g":"e","t":695,"r":-0.0660},{"g":"e","t":811,"r":-0.0676},{"g":"e","t":957,"r":-0.0682},{"g":"e","t":753,"r":-0.0671},{"g":"e","t":578,"r":-0.0703},{"g":"e","t":461,"r":-0.0735},{"g":"e","t":490,"r":-0.0772},{"g":"e","t":636,"r":-0.0788},{"g":"e","t":578,"r":-0.0746},{"g":"e","t":344,"r":-0.0703},{"g":"e","t":169,"r":-0.0650},{"g":"e","t":0,"r":-0.0607},
    {"g":"f","t":1045,"r":-0.0628},{"g":"f","t":1278,"r":-0.0586},{"g":"f","t":1628,"r":-0.0554},{"g":"f","t":1891,"r":-0.0532},{"g":"f","t":1862,"r":-0.0575},{"g":"f","t":1628,"r":-0.0618},{"g":"f","t":1395,"r":-0.0639},{"g":"f","t":1220,"r":-0.0618},{"g":"f","t":1278,"r":-0.0660},{"g":"f","t":1453,"r":-0.0682},{"g":"f","t":1570,"r":-0.0714},{"g":"f","t":1512,"r":-0.0767},{"g":"f","t":1337,"r":-0.0794},{"g":"f","t":1220,"r":-0.0767},{"g":"f","t":1278,"r":-0.0703},{"g":"f","t":1512,"r":-0.0618},{"g":"f","t":1803,"r":-0.0660},{"g":"f","t":1949,"r":-0.0682},
    {"g":"h","t":2008,"r":-0.0615},{"g":"h","t":2329,"r":-0.0612},{"g":"h","t":2621,"r":-0.0596},{"g":"h","t":2854,"r":-0.0583},{"g":"h","t":2504,"r":-0.0618},{"g":"h","t":2387,"r":-0.0628},{"g":"h","t":2387,"r":-0.0671},{"g":"h","t":2562,"r":-0.0660},{"g":"h","t":2737,"r":-0.0682},{"g":"h","t":2912,"r":-0.0650},{"g":"h","t":2679,"r":-0.0703},{"g":"h","t":2446,"r":-0.0746},{"g":"h","t":2241,"r":-0.0772},{"g":"h","t":2212,"r":-0.0724},{"g":"h","t":2271,"r":-0.0618},{"g":"h","t":2241,"r":-0.0575},
    {"g":"k","t":9012,"r":-0.0621},{"g":"k","t":9391,"r":-0.0607},{"g":"k","t":9916,"r":-0.0580},{"g":"k","t":9508,"r":-0.0623},{"g":"k","t":9333,"r":-0.0644},{"g":"k","t":9304,"r":-0.0698},{"g":"k","t":9275,"r":-0.0772},{"g":"k","t":9479,"r":-0.0740},{"g":"k","t":9683,"r":-0.0703},{"g":"k","t":9858,"r":-0.0682},{"g":"k","t":9990,"r":-0.0655}
  ]
},
"columns": 2,
"spacing": {"row": 56, "column": 68},
"bounds": "flush",
"concat": [
  {"width": 571, "height": 249, "title": {"text": "writing \"a\"", "dy": 3},
   "encoding": {"x": {"field": "t", "type": "quantitative", "scale": {"domain": [0, 10000], "nice": false}, "axis": {"labels": false, "title": null, "values": [0,1000,2000,3000,4000,5000,6000,7000,8000,9000,10000], "grid": true}}},
   "layer": [
    {"data": {"name": "tl"}, "mark": {"type": "area", "color": "#808080", "opacity": 1},
     "encoding": {"y": {"field": "lo", "type": "quantitative", "scale": {"domain": [-0.08, 0], "nice": false}, "axis": {"title": "reward", "titlePadding": 4, "values": [-0.08,-0.07,-0.06,-0.05,-0.04,-0.03,-0.02,-0.01,0], "labelExpr": "replace(format(datum.value, '.2~f'), '−', '-')", "grid": true}}, "y2": {"field": "hi"}}},
    {"data": {"name": "tl"}, "mark": {"type": "line", "color": "black", "strokeWidth": 2.5},
     "encoding": {"y": {"field": "m", "type": "quantitative", "scale": {"domain": [-0.08, 0], "nice": false}, "axis": {"title": "reward", "titlePadding": 4, "values": [-0.08,-0.07,-0.06,-0.05,-0.04,-0.03,-0.02,-0.01,0], "labelExpr": "replace(format(datum.value, '.2~f'), '−', '-')", "grid": true}}}},
    {"data": {"name": "tlm"}, "transform": [{"fold": ["maximum", "minimum"], "as": ["key", "value"]}],
     "mark": {"type": "point", "filled": true, "size": 816, "opacity": 1, "strokeWidth": 0},
     "encoding": {"y": {"field": "value", "type": "quantitative", "scale": {"domain": [-0.08, 0], "nice": false}, "axis": {"title": "reward", "titlePadding": 4, "values": [-0.08,-0.07,-0.06,-0.05,-0.04,-0.03,-0.02,-0.01,0], "labelExpr": "replace(format(datum.value, '.2~f'), '−', '-')", "grid": true}},
      "shape": {"field": "key", "type": "nominal", "scale": {"domain": ["standard deviation", "mean", "maximum", "minimum"], "range": ["M-1.8,-0.6H1.8V0.6H-1.8Z", "M-1.8,-0.15H1.8V0.15H-1.8Z", "M-0.05,-0.35H0.05V-0.05H0.35V0.05H0.05V0.35H-0.05V0.05H-0.35V-0.05H-0.05Z", "M-0.08,-0.08H0.08V0.08H-0.08Z"]},
        "legend": {"orient": "none", "legendX": 349, "legendY": 81, "title": null, "symbolSize": 400, "symbolOffset": 17, "labelOffset": 12, "padding": 2, "rowPadding": 2.5, "labelFontSize": 17, "labelFont": "DejaVu Sans", "labelColor": "black", "strokeColor": "black", "fillColor": "white", "symbolStrokeWidth": 0, "direction": "vertical"}},
      "color": {"field": "key", "type": "nominal", "scale": {"domain": ["standard deviation", "mean", "maximum", "minimum"], "range": ["#808080", "#000000", "#000000", "#000000"]},
        "legend": {"orient": "none", "legendX": 349, "legendY": 81, "title": null, "symbolSize": 400, "symbolOffset": 17, "labelOffset": 12, "padding": 2, "rowPadding": 2.5, "labelFontSize": 17, "labelFont": "DejaVu Sans", "labelColor": "black", "strokeColor": "black", "fillColor": "white", "symbolStrokeWidth": 0, "direction": "vertical"}}}},
    {"data": {"name": "notes"}, "mark": {"type": "text", "align": "left", "baseline": "middle", "fontSize": 16.5, "font": "DejaVu Sans", "color": "black"},
     "encoding": {"y": {"field": "r", "type": "quantitative", "scale": {"domain": [-0.08, 0], "nice": false}, "axis": {"title": "reward", "titlePadding": 4, "values": [-0.08,-0.07,-0.06,-0.05,-0.04,-0.03,-0.02,-0.01,0], "labelExpr": "replace(format(datum.value, '.2~f'), '−', '-')", "grid": true}}, "text": {"field": "label"}}}
   ]},
  {"width": 571, "height": 249, "title": {"text": "writing \"a\" with only linear feedback", "dy": 3},
   "encoding": {"x": {"field": "t", "type": "quantitative", "scale": {"domain": [0, 10000], "nice": false}, "axis": {"labels": false, "title": null, "values": [0,1000,2000,3000,4000,5000,6000,7000,8000,9000,10000], "grid": true}}},
   "layer": [
    {"data": {"name": "tr"}, "mark": {"type": "area", "color": "#808080", "opacity": 1},
     "encoding": {"y": {"field": "lo", "type": "quantitative", "scale": {"domain": [-0.08, 0], "nice": false}, "axis": {"title": null, "labels": false, "values": [-0.08,-0.07,-0.06,-0.05,-0.04,-0.03,-0.02,-0.01,0], "grid": true}}, "y2": {"field": "hi"}}},
    {"data": {"name": "tr"}, "mark": {"type": "line", "color": "black", "strokeWidth": 2.5},
     "encoding": {"y": {"field": "m", "type": "quantitative", "scale": {"domain": [-0.08, 0], "nice": false}, "axis": {"title": null, "labels": false, "values": [-0.08,-0.07,-0.06,-0.05,-0.04,-0.03,-0.02,-0.01,0], "grid": true}}}},
    {"data": {"name": "trm"}, "mark": {"type": "point", "filled": true, "size": 816, "opacity": 1, "strokeWidth": 0, "color": "black", "shape": "M-0.05,-0.35H0.05V-0.05H0.35V0.05H0.05V0.35H-0.05V0.05H-0.35V-0.05H-0.05Z"},
     "encoding": {"y": {"field": "maximum", "type": "quantitative", "scale": {"domain": [-0.08, 0], "nice": false}, "axis": {"title": null, "labels": false, "values": [-0.08,-0.07,-0.06,-0.05,-0.04,-0.03,-0.02,-0.01,0], "grid": true}}}},
    {"data": {"name": "trm"}, "mark": {"type": "point", "filled": true, "size": 816, "opacity": 1, "strokeWidth": 0, "color": "black", "shape": "M-0.08,-0.08H0.08V0.08H-0.08Z"},
     "encoding": {"y": {"field": "minimum", "type": "quantitative", "scale": {"domain": [-0.08, 0], "nice": false}, "axis": {"title": null, "labels": false, "values": [-0.08,-0.07,-0.06,-0.05,-0.04,-0.03,-0.02,-0.01,0], "grid": true}}}}
   ]},
  {"width": 571, "height": 249, "title": {"text": "writing \"b\"", "dy": 12},
   "encoding": {"x": {"field": "t", "type": "quantitative", "scale": {"domain": [0, 10000], "nice": false}, "axis": {"title": "trial", "titlePadding": 3, "format": "d", "values": [0,1000,2000,3000,4000,5000,6000,7000,8000,9000,10000], "grid": true}}},
   "layer": [
    {"data": {"name": "bl"}, "mark": {"type": "area", "color": "#808080", "opacity": 1},
     "encoding": {"y": {"field": "lo", "type": "quantitative", "scale": {"domain": [-0.08, 0], "nice": false}, "axis": {"title": "reward", "titlePadding": 4, "values": [-0.08,-0.07,-0.06,-0.05,-0.04,-0.03,-0.02,-0.01,0], "labelExpr": "replace(format(datum.value, '.2~f'), '−', '-')", "grid": true}}, "y2": {"field": "hi"}}},
    {"data": {"name": "bl"}, "mark": {"type": "line", "color": "black", "strokeWidth": 2.5},
     "encoding": {"y": {"field": "m", "type": "quantitative", "scale": {"domain": [-0.08, 0], "nice": false}, "axis": {"title": "reward", "titlePadding": 4, "values": [-0.08,-0.07,-0.06,-0.05,-0.04,-0.03,-0.02,-0.01,0], "labelExpr": "replace(format(datum.value, '.2~f'), '−', '-')", "grid": true}}}},
    {"data": {"name": "target"}, "mark": {"type": "line", "color": "#ff0000", "strokeWidth": 1, "point": {"filled": true, "size": 7, "color": "#ff0000", "opacity": 1}},
     "encoding": {"y": {"field": "r", "type": "quantitative", "scale": {"domain": [-0.08, 0], "nice": false}, "axis": {"title": "reward", "titlePadding": 4, "values": [-0.08,-0.07,-0.06,-0.05,-0.04,-0.03,-0.02,-0.01,0], "labelExpr": "replace(format(datum.value, '.2~f'), '−', '-')", "grid": true}}, "detail": {"field": "g"}, "order": {"value": null}}},
    {"data": {"name": "trace"}, "mark": {"type": "line", "color": "#0000ff", "strokeWidth": 1, "point": {"filled": true, "size": 7, "color": "#0000ff", "opacity": 1}},
     "encoding": {"y": {"field": "r", "type": "quantitative", "scale": {"domain": [-0.08, 0], "nice": false}, "axis": {"title": "reward", "titlePadding": 4, "values": [-0.08,-0.07,-0.06,-0.05,-0.04,-0.03,-0.02,-0.01,0], "labelExpr": "replace(format(datum.value, '.2~f'), '−', '-')", "grid": true}}, "detail": {"field": "g"}, "order": {"value": null}}},
    {"data": {"name": "blm"}, "mark": {"type": "point", "filled": true, "size": 816, "opacity": 1, "strokeWidth": 0, "color": "black", "shape": "M-0.05,-0.35H0.05V-0.05H0.35V0.05H0.05V0.35H-0.05V0.05H-0.35V-0.05H-0.05Z"},
     "encoding": {"y": {"field": "maximum", "type": "quantitative", "scale": {"domain": [-0.08, 0], "nice": false}, "axis": {"title": "reward", "titlePadding": 4, "values": [-0.08,-0.07,-0.06,-0.05,-0.04,-0.03,-0.02,-0.01,0], "labelExpr": "replace(format(datum.value, '.2~f'), '−', '-')", "grid": true}}}},
    {"data": {"name": "blm"}, "mark": {"type": "point", "filled": true, "size": 816, "opacity": 1, "strokeWidth": 0, "color": "black", "shape": "M-0.08,-0.08H0.08V0.08H-0.08Z"},
     "encoding": {"y": {"field": "minimum", "type": "quantitative", "scale": {"domain": [-0.08, 0], "nice": false}, "axis": {"title": "reward", "titlePadding": 4, "values": [-0.08,-0.07,-0.06,-0.05,-0.04,-0.03,-0.02,-0.01,0], "labelExpr": "replace(format(datum.value, '.2~f'), '−', '-')", "grid": true}}}},
    {"data": {"name": "insetlabels"}, "mark": {"type": "text", "angle": 270, "align": "center", "baseline": "middle", "fontSize": 16.5, "font": "DejaVu Sans", "color": "black"},
     "encoding": {"y": {"field": "r", "type": "quantitative", "scale": {"domain": [-0.08, 0], "nice": false}, "axis": {"title": "reward", "titlePadding": 4, "values": [-0.08,-0.07,-0.06,-0.05,-0.04,-0.03,-0.02,-0.01,0], "labelExpr": "replace(format(datum.value, '.2~f'), '−', '-')", "grid": true}}, "text": {"field": "label"}}}
   ]},
  {"width": 571, "height": 249, "title": {"text": "writing \"b\" with only linear feedback", "dy": 12},
   "encoding": {"x": {"field": "t", "type": "quantitative", "scale": {"domain": [0, 10000], "nice": false}, "axis": {"title": "trial", "titlePadding": 3, "format": "d", "values": [0,1000,2000,3000,4000,5000,6000,7000,8000,9000,10000], "grid": true}}},
   "layer": [
    {"data": {"name": "br"}, "mark": {"type": "area", "color": "#808080", "opacity": 1},
     "encoding": {"y": {"field": "lo", "type": "quantitative", "scale": {"domain": [-0.08, 0], "nice": false}, "axis": {"title": null, "labels": false, "values": [-0.08,-0.07,-0.06,-0.05,-0.04,-0.03,-0.02,-0.01,0], "grid": true}}, "y2": {"field": "hi"}}},
    {"data": {"name": "br"}, "mark": {"type": "line", "color": "black", "strokeWidth": 2.5},
     "encoding": {"y": {"field": "m", "type": "quantitative", "scale": {"domain": [-0.08, 0], "nice": false}, "axis": {"title": null, "labels": false, "values": [-0.08,-0.07,-0.06,-0.05,-0.04,-0.03,-0.02,-0.01,0], "grid": true}}}},
    {"data": {"name": "brm"}, "mark": {"type": "point", "filled": true, "size": 816, "opacity": 1, "strokeWidth": 0, "color": "black", "shape": "M-0.05,-0.35H0.05V-0.05H0.35V0.05H0.05V0.35H-0.05V0.05H-0.35V-0.05H-0.05Z"},
     "encoding": {"y": {"field": "maximum", "type": "quantitative", "scale": {"domain": [-0.08, 0], "nice": false}, "axis": {"title": null, "labels": false, "values": [-0.08,-0.07,-0.06,-0.05,-0.04,-0.03,-0.02,-0.01,0], "grid": true}}}},
    {"data": {"name": "brm"}, "mark": {"type": "point", "filled": true, "size": 816, "opacity": 1, "strokeWidth": 0, "color": "black", "shape": "M-0.08,-0.08H0.08V0.08H-0.08Z"},
     "encoding": {"y": {"field": "minimum", "type": "quantitative", "scale": {"domain": [-0.08, 0], "nice": false}, "axis": {"title": null, "labels": false, "values": [-0.08,-0.07,-0.06,-0.05,-0.04,-0.03,-0.02,-0.01,0], "grid": true}}}}
   ]}
]
}
